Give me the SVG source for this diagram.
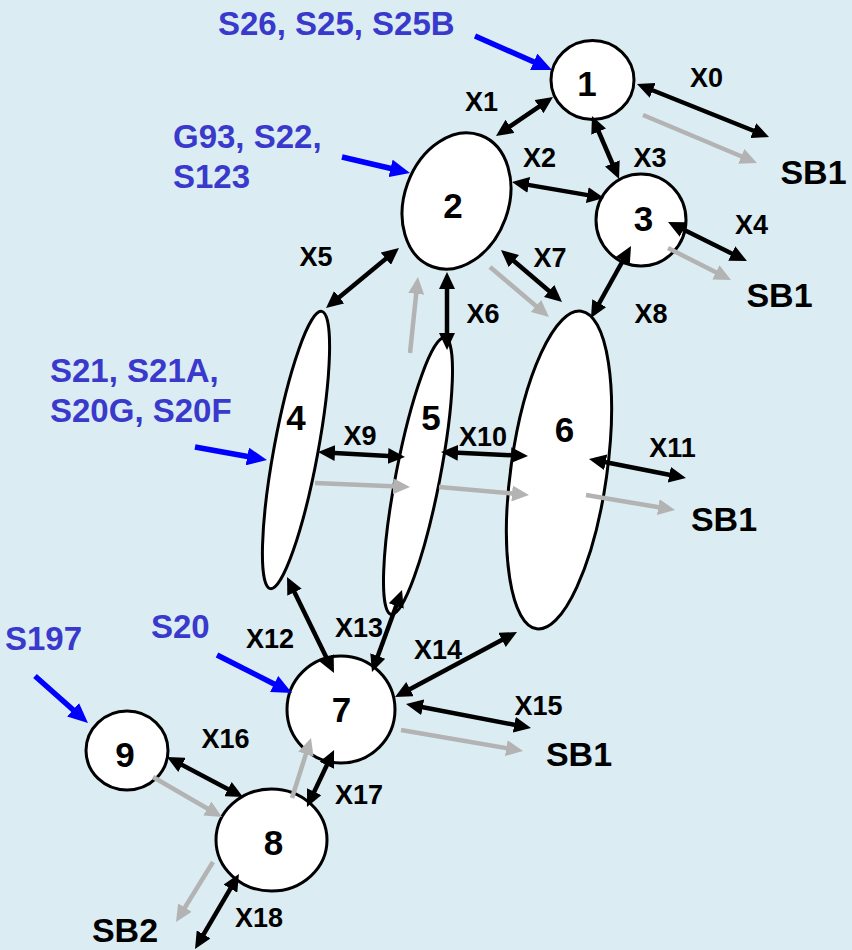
<svg xmlns="http://www.w3.org/2000/svg" width="852" height="950" viewBox="0 0 852 950">
<style>
text{font-family:"Liberation Sans",Arial,sans-serif;font-weight:bold}
.node{fill:#fff;stroke:#000;stroke-width:3}
.num{font-size:35px;fill:#000;text-anchor:middle}
.xl{font-size:27px;fill:#000;text-anchor:middle}
.sb{font-size:34px;fill:#000;text-anchor:middle}
.bl{font-size:33px;fill:#3939cc}
.bk{stroke:#000;stroke-width:4.5;fill:none;marker-start:url(#hb);marker-end:url(#hb)}
.gr{stroke:#b3b3b3;stroke-width:4.5;fill:none;marker-end:url(#hg)}
.bu{stroke:#0000ff;stroke-width:5.5;fill:none;marker-end:url(#hu)}
</style>
<defs>
<marker id="hb" markerUnits="userSpaceOnUse" markerWidth="17" markerHeight="16" refX="5" refY="8" orient="auto-start-reverse"><path d="M0,0 L17,8 L0,16 z" fill="#000"/></marker>
<marker id="hg" markerUnits="userSpaceOnUse" markerWidth="17" markerHeight="16" refX="5" refY="8" orient="auto"><path d="M0,0 L17,8 L0,16 z" fill="#b3b3b3"/></marker>
<marker id="hu" markerUnits="userSpaceOnUse" markerWidth="20" markerHeight="18" refX="6" refY="9" orient="auto"><path d="M0,0 L20,9 L0,18 z" fill="#0000ff"/></marker>
</defs>
<rect width="852" height="950" fill="#dbedf3"/>

<g id="node1"><ellipse class="node" cx="592.5" cy="80" rx="41.5" ry="39.5"/><text class="num" x="587" y="96">1</text></g>
<g id="node2"><ellipse class="node" cx="0" cy="0" rx="52" ry="70" transform="translate(456.5,201) rotate(20)"/><text class="num" x="453" y="218">2</text></g>
<g id="node3"><ellipse class="node" cx="641" cy="220" rx="45" ry="46"/><text class="num" x="643.5" y="231">3</text></g>
<g id="node4"><ellipse class="node" cx="0" cy="0" rx="22" ry="141" transform="translate(296,450) rotate(10.5)"/><text class="num" x="296" y="430">4</text></g>
<g id="node5"><ellipse class="node" cx="0" cy="0" rx="22" ry="141" transform="translate(418,476) rotate(11)"/><text class="num" x="431" y="430">5</text></g>
<g id="node6"><ellipse class="node" cx="0" cy="0" rx="48" ry="160.4" transform="translate(559,470) rotate(8)"/><text class="num" x="564.5" y="442">6</text></g>
<g id="node7"><ellipse class="node" cx="341" cy="709.5" rx="54" ry="53.5"/><text class="num" x="341.5" y="722">7</text></g>
<g id="node8"><ellipse class="node" cx="271.5" cy="840" rx="55.5" ry="51"/><text class="num" x="273.5" y="855">8</text></g>
<g id="node9"><ellipse class="node" cx="127" cy="750.5" rx="41" ry="39.5"/><text class="num" x="125" y="767">9</text></g>

<g id="connectors">
<line class="bk" x1="648.1" y1="88.5" x2="757.9" y2="132.5"/>
<line class="bk" x1="505.9" y1="129.2" x2="543.1" y2="103.8"/>
<line class="bk" x1="523.8" y1="184.1" x2="592.2" y2="195.9"/>
<line class="bk" x1="596.7" y1="127" x2="614.3" y2="168"/>
<line class="bk" x1="678.8" y1="227.3" x2="736.2" y2="255.7"/>
<line class="bk" x1="335.3" y1="300.4" x2="389.7" y2="255.6"/>
<line class="bk" x1="447" y1="284" x2="447" y2="338"/>
<line class="bk" x1="510.1" y1="257.8" x2="552.9" y2="294.2"/>
<line class="bk" x1="625.2" y1="256.5" x2="596.8" y2="307.5"/>
<line class="bk" x1="330" y1="452.7" x2="393" y2="456.3"/>
<line class="bk" x1="453" y1="452.6" x2="516" y2="455.4"/>
<line class="bk" x1="600.8" y1="461.3" x2="674.2" y2="475.7"/>
<line class="bk" x1="292.3" y1="587.8" x2="328.7" y2="662.2"/>
<line class="bk" x1="397.9" y1="601.3" x2="376.1" y2="660.7"/>
<line class="bk" x1="405.6" y1="691.4" x2="506.4" y2="637.6"/>
<line class="bk" x1="417.8" y1="706.3" x2="519.2" y2="725.7"/>
<line class="bk" x1="177.6" y1="762.6" x2="232.4" y2="791.4"/>
<line class="bk" x1="328.9" y1="760.8" x2="312.1" y2="796.2"/>
<line class="bk" x1="232.9" y1="884.3" x2="201.1" y2="938.7"/>

<line class="gr" x1="643" y1="115" x2="745.9" y2="158.3"/>
<line class="gr" x1="668" y1="248" x2="720.3" y2="274.6"/>
<line class="gr" x1="490" y1="267" x2="539.8" y2="309.2"/>
<line class="gr" x1="410" y1="353" x2="416.7" y2="288.9"/>
<line class="gr" x1="315" y1="483" x2="398" y2="486.5"/>
<line class="gr" x1="439" y1="487" x2="517" y2="493.9"/>
<line class="gr" x1="586" y1="495" x2="663.2" y2="508"/>
<line class="gr" x1="401" y1="730" x2="511.2" y2="749"/>
<line class="gr" x1="292" y1="798" x2="307.4" y2="749.4"/>
<line class="gr" x1="153" y1="777" x2="211.6" y2="811"/>
<line class="gr" x1="213" y1="862" x2="182.3" y2="911.8"/>

<line class="bu" x1="475" y1="36" x2="539.2" y2="64.3"/>
<line class="bu" x1="342" y1="157" x2="396.4" y2="169.8"/>
<line class="bu" x1="195" y1="447" x2="253.2" y2="457.5"/>
<line class="bu" x1="217" y1="655" x2="279.5" y2="686.7"/>
<line class="bu" x1="35" y1="676" x2="77.5" y2="713.7"/>
</g>

<g id="labels">
<text class="xl" x="706.5" y="87">X0</text>
<text class="xl" x="481.5" y="111">X1</text>
<text class="xl" x="539.5" y="167">X2</text>
<text class="xl" x="650" y="167">X3</text>
<text class="xl" x="751.5" y="234">X4</text>
<text class="xl" x="316" y="266">X5</text>
<text class="xl" x="483" y="323">X6</text>
<text class="xl" x="550" y="267">X7</text>
<text class="xl" x="651" y="323">X8</text>
<text class="xl" x="360" y="445">X9</text>
<text class="xl" x="483" y="446">X10</text>
<text class="xl" x="672.5" y="457">X11</text>
<text class="xl" x="270" y="648">X12</text>
<text class="xl" x="359" y="637">X13</text>
<text class="xl" x="438" y="659">X14</text>
<text class="xl" x="538.5" y="715">X15</text>
<text class="xl" x="225.5" y="748">X16</text>
<text class="xl" x="359" y="804">X17</text>
<text class="xl" x="259" y="927">X18</text>

<text class="sb" x="813.5" y="184">SB1</text>
<text class="sb" x="779.5" y="307">SB1</text>
<text class="sb" x="724" y="531">SB1</text>
<text class="sb" x="579" y="766">SB1</text>
<text class="sb" x="125" y="942">SB2</text>

<text class="bl" x="218" y="35">S26, S25, S25B</text>
<text class="bl" x="173" y="148">G93, S22,</text>
<text class="bl" x="173" y="188">S123</text>
<text class="bl" x="50" y="382">S21, S21A,</text>
<text class="bl" x="50" y="422">S20G, S20F</text>
<text class="bl" x="151" y="638">S20</text>
<text class="bl" x="5" y="650">S197</text>
</g>
</svg>
